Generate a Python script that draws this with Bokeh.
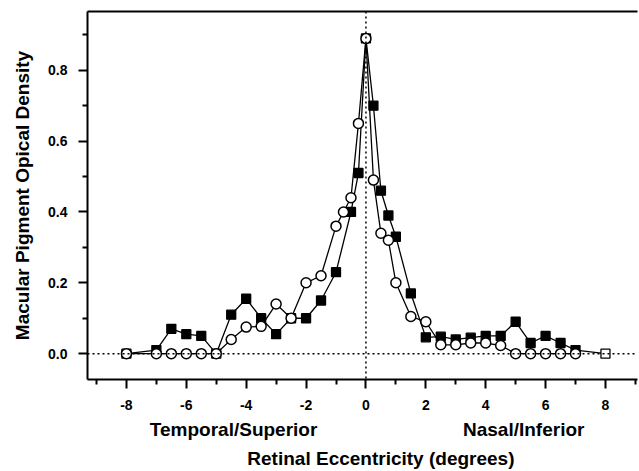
from bokeh.plotting import figure
from bokeh.models import FixedTicker, LinearAxis, Span
from bokeh.embed import file_html
from bokeh.resources import INLINE

# Filled squares series
sq_x = [-8, -7, -6.5, -6, -5.5, -5, -4.5, -4, -3.5, -3, -2.5, -2, -1.5, -1, -0.5, -0.25, 0,
        0.25, 0.5, 0.75, 1, 1.5, 2, 2.5, 3, 3.5, 4, 4.5, 5, 5.5, 6, 6.5, 7, 8]
sq_y = [0, 0.01, 0.07, 0.055, 0.05, 0, 0.11, 0.155, 0.10, 0.055, 0.10, 0.10, 0.15, 0.23, 0.40, 0.51, 0.89,
        0.70, 0.46, 0.39, 0.33, 0.17, 0.046, 0.048, 0.04, 0.045, 0.05, 0.05, 0.09, 0.03, 0.05, 0.03, 0.01, 0]

# Open circles series
ci_x = [-8, -7, -6.5, -6, -5.5, -5, -4.5, -4, -3.5, -3, -2.5, -2, -1.5, -1, -0.75, -0.5, -0.25, 0,
        0.25, 0.5, 0.75, 1, 1.5, 2, 2.5, 3, 3.5, 4, 4.5, 5, 5.5, 6, 6.5, 7]
ci_y = [0, 0, 0, 0, 0, 0, 0.04, 0.075, 0.077, 0.14, 0.10, 0.20, 0.22, 0.36, 0.40, 0.44, 0.65, 0.89,
        0.49, 0.34, 0.32, 0.20, 0.105, 0.09, 0.025, 0.025, 0.03, 0.03, 0.023, 0, 0, 0, 0, 0]

x_major = [-8, -6, -4, -2, 0, 2, 4, 6, 8]
x_minor = [-9, -7, -5, -3, -1, 1, 3, 5, 7, 9]
y_major = [0.0, 0.2, 0.4, 0.6, 0.8]
y_minor = [0.1, 0.3, 0.5, 0.7, 0.9]
y_labels = {0.0: "0.0", 0.2: "0.2", 0.4: "0.4", 0.6: "0.6", 0.8: "0.8"}
x_labels = {v: str(v) for v in x_major}

y_title = "Macular Pigment Opical Density"
x_title = "Retinal Eccentricity (degrees)"
side_notes = {-4.42: "Temporal/Superior", 5.27: "Nasal/Inferior"}
title_pos = 0.5

FONT = "Liberation Sans"

p = figure(width=639, height=471, x_range=(-9.3, 9.07), y_range=(-0.073, 0.966),
           output_backend="svg", toolbar_location=None,
           min_border_left=87, min_border_right=2, min_border_top=11, min_border_bottom=10)
p.xgrid.visible = False
p.ygrid.visible = False
p.outline_line_color = None
p.background_fill_color = "white"
p.border_fill_color = "white"

# reference lines
p.add_layout(Span(location=0, dimension="width", line_color="black", line_dash="2 3", line_width=1.5))
p.add_layout(Span(location=0, dimension="height", line_color="black", line_dash="2 3", line_width=1.5))

sq_fill = ["white" if v == 0 else "black" for v in sq_y]

p.line(sq_x, sq_y, line_color="black", line_width=1.3)
p.line(ci_x, ci_y, line_color="black", line_width=1.3)
p.scatter(sq_x, sq_y, marker="square", size=9, fill_color=sq_fill, line_color="black", line_width=1.3)
p.scatter(ci_x, ci_y, marker="circle", size=10, fill_color="white", line_color="black", line_width=1.5)

# axes
xa = p.xaxis[0]
xa.ticker = FixedTicker(ticks=x_major, minor_ticks=x_minor)
xa.major_label_overrides = x_labels
ya = p.yaxis[0]
ya.ticker = FixedTicker(ticks=y_major, minor_ticks=y_minor)
ya.major_label_overrides = y_labels
for ax in (xa, ya):
    ax.axis_line_width = 2
    ax.axis_line_color = "black"
    ax.major_tick_line_width = 2
    ax.minor_tick_line_width = 2
    ax.major_tick_out = 9
    ax.major_tick_in = 0
    ax.minor_tick_out = 5
    ax.minor_tick_in = 0
    ax.major_label_text_font = FONT
    ax.major_label_text_font_style = "bold"
    ax.major_label_text_font_size = "14px"
    ax.major_label_text_color = "black"
    ax.major_label_standoff = 11

ya.axis_label = y_title
ya.axis_label_text_font = FONT
ya.axis_label_text_font_style = "bold"
ya.axis_label_text_font_size = "19px"
ya.axis_label_text_color = "black"
ya.axis_label_standoff = 12

top = LinearAxis(ticker=FixedTicker(ticks=[]), major_label_text_font_size="0px",
                 axis_line_width=2, axis_line_color="black",
                 major_tick_out=0, minor_tick_out=0, major_label_standoff=0)
p.add_layout(top, "above")

def text_axis(ticks, labels, standoff):
    ax = LinearAxis(ticker=FixedTicker(ticks=ticks), major_label_overrides=labels,
                    axis_line_color=None, major_tick_line_color=None, minor_tick_line_color=None,
                    major_tick_out=0, major_tick_in=0, minor_tick_out=0, minor_tick_in=0,
                    major_label_standoff=standoff,
                    major_label_text_font=FONT, major_label_text_font_style="bold",
                    major_label_text_font_size="19px", major_label_text_color="black")
    p.add_layout(ax, "below")

text_axis(list(side_notes.keys()), side_notes, 6)
text_axis([title_pos], {title_pos: x_title}, 5)

open("out.html", "w").write(file_html(p, INLINE))
